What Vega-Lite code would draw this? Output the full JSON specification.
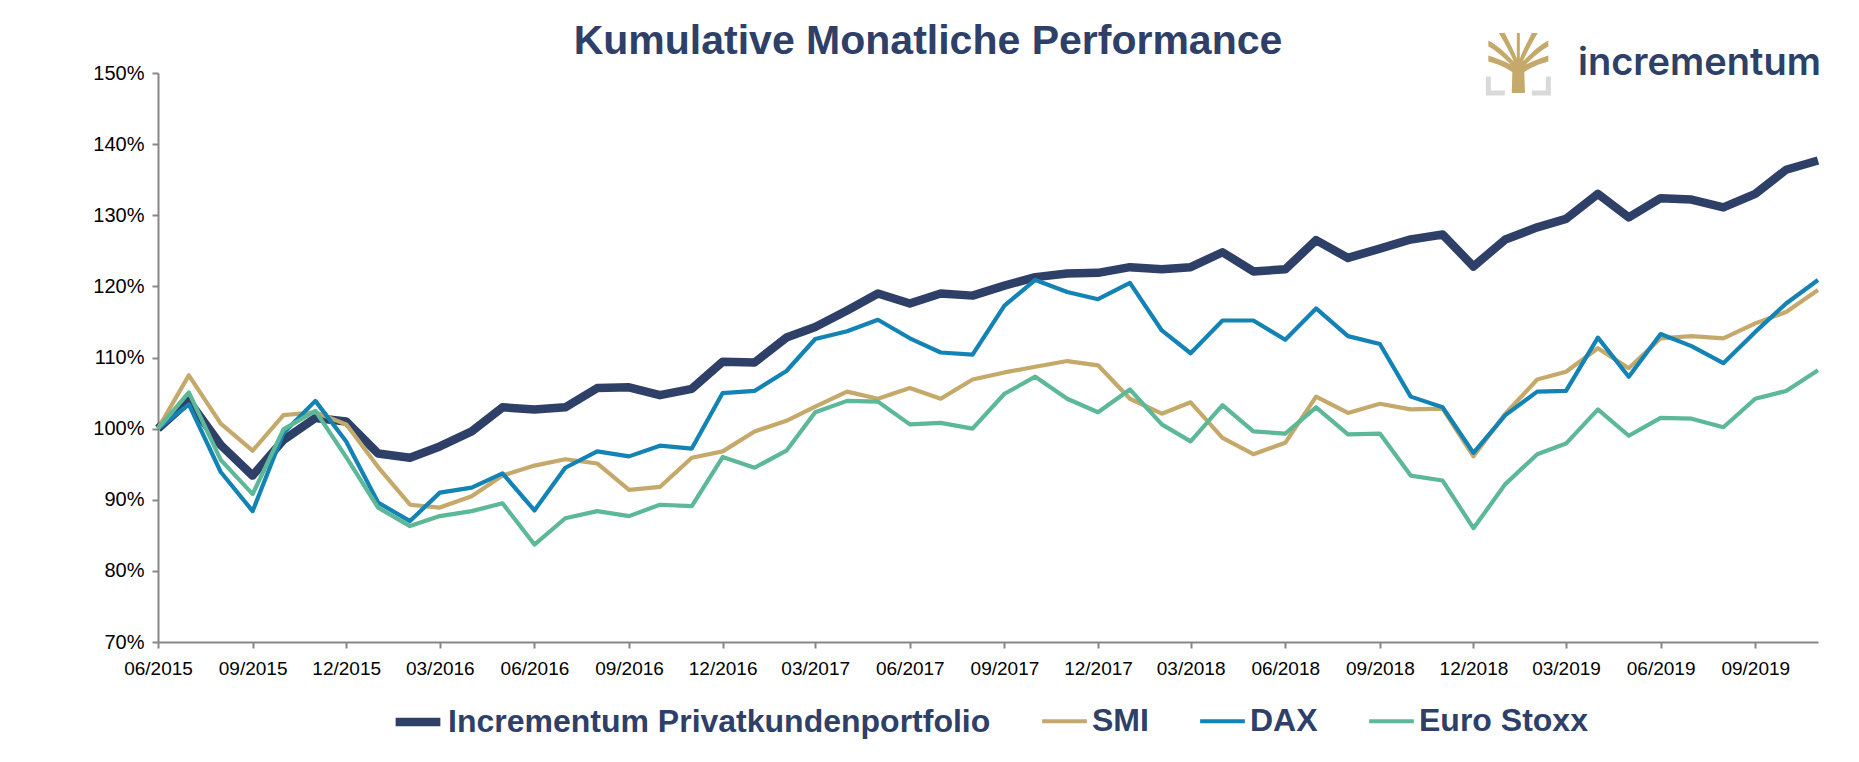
{
  "$schema": "https://vega.github.io/schema/vega-lite/v6.json",
  "autosize": {"type": "none"},
  "width": 1660,
  "height": 569,
  "padding": {"left": 158, "top": 73, "right": 41, "bottom": 120},
  "background": "#ffffff",
  "title": {
    "text": "Kumulative Monatliche Performance",
    "font": "Liberation Sans",
    "fontSize": 41,
    "fontWeight": "bold",
    "color": "#2E4068",
    "anchor": "middle",
    "frame": "group",
    "dx": -60,
    "dy": 44,
    "offset": 14
  },
  "layer": [
    {
      "data": {
        "values": [
          {"m": "2015-06-01", "Incrementum Privatkundenportfolio": 100, "SMI": 100, "DAX": 100, "Euro Stoxx": 100},
          {"m": "2015-07-01", "Incrementum Privatkundenportfolio": 103.9, "SMI": 107.5, "DAX": 103.4, "Euro Stoxx": 105.1},
          {"m": "2015-08-01", "Incrementum Privatkundenportfolio": 97.7, "SMI": 100.7, "DAX": 93.9, "Euro Stoxx": 95.6},
          {"m": "2015-09-01", "Incrementum Privatkundenportfolio": 93.4, "SMI": 96.9, "DAX": 88.4, "Euro Stoxx": 90.8},
          {"m": "2015-10-01", "Incrementum Privatkundenportfolio": 98.4, "SMI": 101.9, "DAX": 99.4, "Euro Stoxx": 99.9},
          {"m": "2015-11-01", "Incrementum Privatkundenportfolio": 101.5, "SMI": 102.3, "DAX": 103.9, "Euro Stoxx": 102.5},
          {"m": "2015-12-01", "Incrementum Privatkundenportfolio": 101.0, "SMI": 100.6, "DAX": 98.2, "Euro Stoxx": 96.0},
          {"m": "2016-01-01", "Incrementum Privatkundenportfolio": 96.5, "SMI": 94.6, "DAX": 89.6, "Euro Stoxx": 88.9},
          {"m": "2016-02-01", "Incrementum Privatkundenportfolio": 95.9, "SMI": 89.3, "DAX": 87.0, "Euro Stoxx": 86.3},
          {"m": "2016-03-01", "Incrementum Privatkundenportfolio": 97.5, "SMI": 88.9, "DAX": 91.0, "Euro Stoxx": 87.7},
          {"m": "2016-04-01", "Incrementum Privatkundenportfolio": 99.6, "SMI": 90.5, "DAX": 91.7, "Euro Stoxx": 88.4},
          {"m": "2016-05-01", "Incrementum Privatkundenportfolio": 103.0, "SMI": 93.4, "DAX": 93.7, "Euro Stoxx": 89.5},
          {"m": "2016-06-01", "Incrementum Privatkundenportfolio": 102.7, "SMI": 94.8, "DAX": 88.5, "Euro Stoxx": 83.7},
          {"m": "2016-07-01", "Incrementum Privatkundenportfolio": 103.0, "SMI": 95.7, "DAX": 94.5, "Euro Stoxx": 87.4},
          {"m": "2016-08-01", "Incrementum Privatkundenportfolio": 105.7, "SMI": 95.1, "DAX": 96.8, "Euro Stoxx": 88.4},
          {"m": "2016-09-01", "Incrementum Privatkundenportfolio": 105.8, "SMI": 91.4, "DAX": 96.1, "Euro Stoxx": 87.7},
          {"m": "2016-10-01", "Incrementum Privatkundenportfolio": 104.7, "SMI": 91.8, "DAX": 97.6, "Euro Stoxx": 89.3},
          {"m": "2016-11-01", "Incrementum Privatkundenportfolio": 105.6, "SMI": 95.9, "DAX": 97.2, "Euro Stoxx": 89.1},
          {"m": "2016-12-01", "Incrementum Privatkundenportfolio": 109.4, "SMI": 96.8, "DAX": 105.0, "Euro Stoxx": 96.0},
          {"m": "2017-01-01", "Incrementum Privatkundenportfolio": 109.3, "SMI": 99.6, "DAX": 105.3, "Euro Stoxx": 94.5},
          {"m": "2017-02-01", "Incrementum Privatkundenportfolio": 112.8, "SMI": 101.1, "DAX": 108.1, "Euro Stoxx": 96.9},
          {"m": "2017-03-01", "Incrementum Privatkundenportfolio": 114.3, "SMI": 103.1, "DAX": 112.6, "Euro Stoxx": 102.3},
          {"m": "2017-04-01", "Incrementum Privatkundenportfolio": 116.6, "SMI": 105.2, "DAX": 113.7, "Euro Stoxx": 103.9},
          {"m": "2017-05-01", "Incrementum Privatkundenportfolio": 119.0, "SMI": 104.2, "DAX": 115.3, "Euro Stoxx": 103.8},
          {"m": "2017-06-01", "Incrementum Privatkundenportfolio": 117.6, "SMI": 105.7, "DAX": 112.7, "Euro Stoxx": 100.6},
          {"m": "2017-07-01", "Incrementum Privatkundenportfolio": 119.0, "SMI": 104.2, "DAX": 110.7, "Euro Stoxx": 100.8},
          {"m": "2017-08-01", "Incrementum Privatkundenportfolio": 118.7, "SMI": 106.9, "DAX": 110.4, "Euro Stoxx": 100.0},
          {"m": "2017-09-01", "Incrementum Privatkundenportfolio": 120.1, "SMI": 107.9, "DAX": 117.3, "Euro Stoxx": 104.9},
          {"m": "2017-10-01", "Incrementum Privatkundenportfolio": 121.3, "SMI": 108.7, "DAX": 120.9, "Euro Stoxx": 107.3},
          {"m": "2017-11-01", "Incrementum Privatkundenportfolio": 121.8, "SMI": 109.5, "DAX": 119.2, "Euro Stoxx": 104.2},
          {"m": "2017-12-01", "Incrementum Privatkundenportfolio": 121.9, "SMI": 108.9, "DAX": 118.2, "Euro Stoxx": 102.3},
          {"m": "2018-01-01", "Incrementum Privatkundenportfolio": 122.7, "SMI": 104.2, "DAX": 120.5, "Euro Stoxx": 105.5},
          {"m": "2018-02-01", "Incrementum Privatkundenportfolio": 122.4, "SMI": 102.1, "DAX": 113.8, "Euro Stoxx": 100.6},
          {"m": "2018-03-01", "Incrementum Privatkundenportfolio": 122.7, "SMI": 103.7, "DAX": 110.6, "Euro Stoxx": 98.2},
          {"m": "2018-04-01", "Incrementum Privatkundenportfolio": 124.8, "SMI": 98.7, "DAX": 115.2, "Euro Stoxx": 103.3},
          {"m": "2018-05-01", "Incrementum Privatkundenportfolio": 122.1, "SMI": 96.4, "DAX": 115.2, "Euro Stoxx": 99.6},
          {"m": "2018-06-01", "Incrementum Privatkundenportfolio": 122.4, "SMI": 98.0, "DAX": 112.5, "Euro Stoxx": 99.3},
          {"m": "2018-07-01", "Incrementum Privatkundenportfolio": 126.5, "SMI": 104.5, "DAX": 116.9, "Euro Stoxx": 103.0},
          {"m": "2018-08-01", "Incrementum Privatkundenportfolio": 124.0, "SMI": 102.2, "DAX": 113.0, "Euro Stoxx": 99.2},
          {"m": "2018-09-01", "Incrementum Privatkundenportfolio": 125.3, "SMI": 103.5, "DAX": 111.9, "Euro Stoxx": 99.3},
          {"m": "2018-10-01", "Incrementum Privatkundenportfolio": 126.6, "SMI": 102.7, "DAX": 104.5, "Euro Stoxx": 93.4},
          {"m": "2018-11-01", "Incrementum Privatkundenportfolio": 127.3, "SMI": 102.8, "DAX": 103.0, "Euro Stoxx": 92.7},
          {"m": "2018-12-01", "Incrementum Privatkundenportfolio": 122.8, "SMI": 96.1, "DAX": 96.6, "Euro Stoxx": 86.0},
          {"m": "2019-01-01", "Incrementum Privatkundenportfolio": 126.6, "SMI": 102.1, "DAX": 101.9, "Euro Stoxx": 92.2},
          {"m": "2019-02-01", "Incrementum Privatkundenportfolio": 128.3, "SMI": 106.9, "DAX": 105.2, "Euro Stoxx": 96.4},
          {"m": "2019-03-01", "Incrementum Privatkundenportfolio": 129.5, "SMI": 108.0, "DAX": 105.3, "Euro Stoxx": 97.9},
          {"m": "2019-04-01", "Incrementum Privatkundenportfolio": 133.0, "SMI": 111.3, "DAX": 112.8, "Euro Stoxx": 102.7},
          {"m": "2019-05-01", "Incrementum Privatkundenportfolio": 129.7, "SMI": 108.5, "DAX": 107.3, "Euro Stoxx": 99.0},
          {"m": "2019-06-01", "Incrementum Privatkundenportfolio": 132.4, "SMI": 112.7, "DAX": 113.3, "Euro Stoxx": 101.5},
          {"m": "2019-07-01", "Incrementum Privatkundenportfolio": 132.2, "SMI": 113.0, "DAX": 111.6, "Euro Stoxx": 101.4},
          {"m": "2019-08-01", "Incrementum Privatkundenportfolio": 131.1, "SMI": 112.7, "DAX": 109.2, "Euro Stoxx": 100.2},
          {"m": "2019-09-01", "Incrementum Privatkundenportfolio": 133.0, "SMI": 114.8, "DAX": 113.6, "Euro Stoxx": 104.2},
          {"m": "2019-10-01", "Incrementum Privatkundenportfolio": 136.4, "SMI": 116.4, "DAX": 117.6, "Euro Stoxx": 105.3},
          {"m": "2019-11-01", "Incrementum Privatkundenportfolio": 137.7, "SMI": 119.5, "DAX": 120.9, "Euro Stoxx": 108.2}
        ]
      },
      "transform": [
        {"fold": ["Incrementum Privatkundenportfolio", "SMI", "DAX", "Euro Stoxx"], "as": ["series", "value"]}
      ],
      "mark": {"type": "line", "strokeJoin": "round", "strokeCap": "butt", "clip": false},
      "encoding": {
        "x": {
          "field": "m",
          "type": "temporal",
          "scale": {
            "type": "utc",
            "domain": [
              {"year": 2015, "month": 6, "date": 1, "utc": true},
              {"year": 2019, "month": 11, "date": 1, "utc": true}
            ],
            "nice": false
          },
          "axis": {
            "title": null,
            "labelExpr": "utcFormat(datum.value, '%m/%Y')",
            "values": [
              {"year": 2015, "month": 6, "date": 1, "utc": true},
              {"year": 2015, "month": 9, "date": 1, "utc": true},
              {"year": 2015, "month": 12, "date": 1, "utc": true},
              {"year": 2016, "month": 3, "date": 1, "utc": true},
              {"year": 2016, "month": 6, "date": 1, "utc": true},
              {"year": 2016, "month": 9, "date": 1, "utc": true},
              {"year": 2016, "month": 12, "date": 1, "utc": true},
              {"year": 2017, "month": 3, "date": 1, "utc": true},
              {"year": 2017, "month": 6, "date": 1, "utc": true},
              {"year": 2017, "month": 9, "date": 1, "utc": true},
              {"year": 2017, "month": 12, "date": 1, "utc": true},
              {"year": 2018, "month": 3, "date": 1, "utc": true},
              {"year": 2018, "month": 6, "date": 1, "utc": true},
              {"year": 2018, "month": 9, "date": 1, "utc": true},
              {"year": 2018, "month": 12, "date": 1, "utc": true},
              {"year": 2019, "month": 3, "date": 1, "utc": true},
              {"year": 2019, "month": 6, "date": 1, "utc": true},
              {"year": 2019, "month": 9, "date": 1, "utc": true}
            ],
            "labelFontSize": 19,
            "labelPadding": 11,
            "labelFlush": false,
            "labelOverlap": false
          }
        },
        "y": {
          "field": "value",
          "type": "quantitative",
          "scale": {"domain": [70, 150], "nice": false, "zero": false},
          "axis": {
            "title": null,
            "values": [70, 80, 90, 100, 110, 120, 130, 140, 150],
            "labelExpr": "datum.value + '%'",
            "labelFontSize": 20,
            "labelPadding": 8
          }
        },
        "color": {
          "field": "series",
          "type": "nominal",
          "scale": {
            "domain": ["Incrementum Privatkundenportfolio", "SMI", "DAX", "Euro Stoxx"],
            "range": ["#2E4068", "#C4A96B", "#1383B6", "#5CB897"]
          },
          "legend": {"title": null}
        },
        "strokeWidth": {
          "field": "series",
          "type": "nominal",
          "scale": {
            "type": "ordinal",
            "domain": ["Incrementum Privatkundenportfolio", "SMI", "DAX", "Euro Stoxx"],
            "range": [8.5, 4.2, 4.2, 4.2]
          },
          "legend": {"title": null}
        },
        "order": {"field": "m", "type": "temporal"}
      }
    },
    {
      "data": {"values": [{"name": "incrementum"}]},
      "mark": {
        "type": "text",
        "font": "Inter",
        "fontWeight": 600,
        "fontSize": 38,
        "color": "#2E4068",
        "align": "left",
        "baseline": "alphabetic",
        "dx": 12,
        "dy": 2,
        "clip": false
      },
      "encoding": {
        "x": {"datum": {"year": 2019, "month": 3, "date": 1, "utc": true}, "type": "temporal"},
        "y": {"datum": 150, "type": "quantitative"},
        "text": {"field": "name"}
      }
    },
    {
      "data": {"values": [{"name": "logo"}]},
      "mark": {
        "type": "point",
        "shape": "M -0.22 1 L -0.2 0.3 C -0.5 0.1 -0.8 0.0 -1 -0.05 L -1 -0.25 C -0.7 -0.15 -0.45 -0.05 -0.25 0.05 C -0.5 -0.2 -0.8 -0.45 -1 -0.55 L -1 -0.75 C -0.7 -0.6 -0.45 -0.35 -0.15 -0.05 C -0.3 -0.4 -0.5 -0.75 -0.65 -1 L -0.45 -1 C -0.3 -0.7 -0.15 -0.4 -0.05 -0.15 L -0.05 -1 L 0.05 -1 L 0.05 -0.15 C 0.15 -0.4 0.3 -0.7 0.45 -1 L 0.65 -1 C 0.5 -0.75 0.3 -0.4 0.15 -0.05 C 0.45 -0.35 0.7 -0.6 1 -0.75 L 1 -0.55 C 0.8 -0.45 0.5 -0.2 0.25 0.05 C 0.45 -0.05 0.7 -0.15 1 -0.25 L 1 -0.05 C 0.8 0 0.5 0.1 0.2 0.3 L 0.22 1 Z",
        "filled": true,
        "fill": "#C5A96B",
        "stroke": null,
        "opacity": 1,
        "size": 3600,
        "xOffset": 13,
        "yOffset": -10,
        "clip": false
      },
      "encoding": {
        "x": {"datum": {"year": 2019, "month": 1, "date": 1, "utc": true}, "type": "temporal"},
        "y": {"datum": 150, "type": "quantitative"}
      }
    },
    {
      "data": {"values": [{"name": "logo frame"}]},
      "mark": {
        "type": "point",
        "shape": "M -1 0.45 L -1 1 L -0.45 1 M 0.45 1 L 1 1 L 1 0.45",
        "filled": false,
        "stroke": "#D9D9D9",
        "strokeWidth": 5,
        "opacity": 1,
        "size": 3600,
        "xOffset": 13,
        "yOffset": -10,
        "clip": false
      },
      "encoding": {
        "x": {"datum": {"year": 2019, "month": 1, "date": 1, "utc": true}, "type": "temporal"},
        "y": {"datum": 150, "type": "quantitative"}
      }
    }
  ],
  "config": {
    "view": {"stroke": null},
    "axis": {
      "grid": false,
      "domainColor": "#878787",
      "domainWidth": 2,
      "tickColor": "#878787",
      "tickWidth": 2,
      "tickSize": 6,
      "labelFont": "Liberation Sans",
      "labelColor": "#000000"
    },
    "legend": {
      "orient": "none",
      "legendX": 233,
      "legendY": 622,
      "direction": "horizontal",
      "padding": 0,
      "symbolType": "stroke",
      "symbolSize": 2000,
      "symbolStrokeWidth": 5,
      "labelFont": "Liberation Sans",
      "labelFontWeight": "bold",
      "labelFontSize": 32,
      "labelColor": "#2E4068",
      "labelLimit": 800,
      "labelOffset": 3,
      "columnPadding": 42
    }
  }
}
